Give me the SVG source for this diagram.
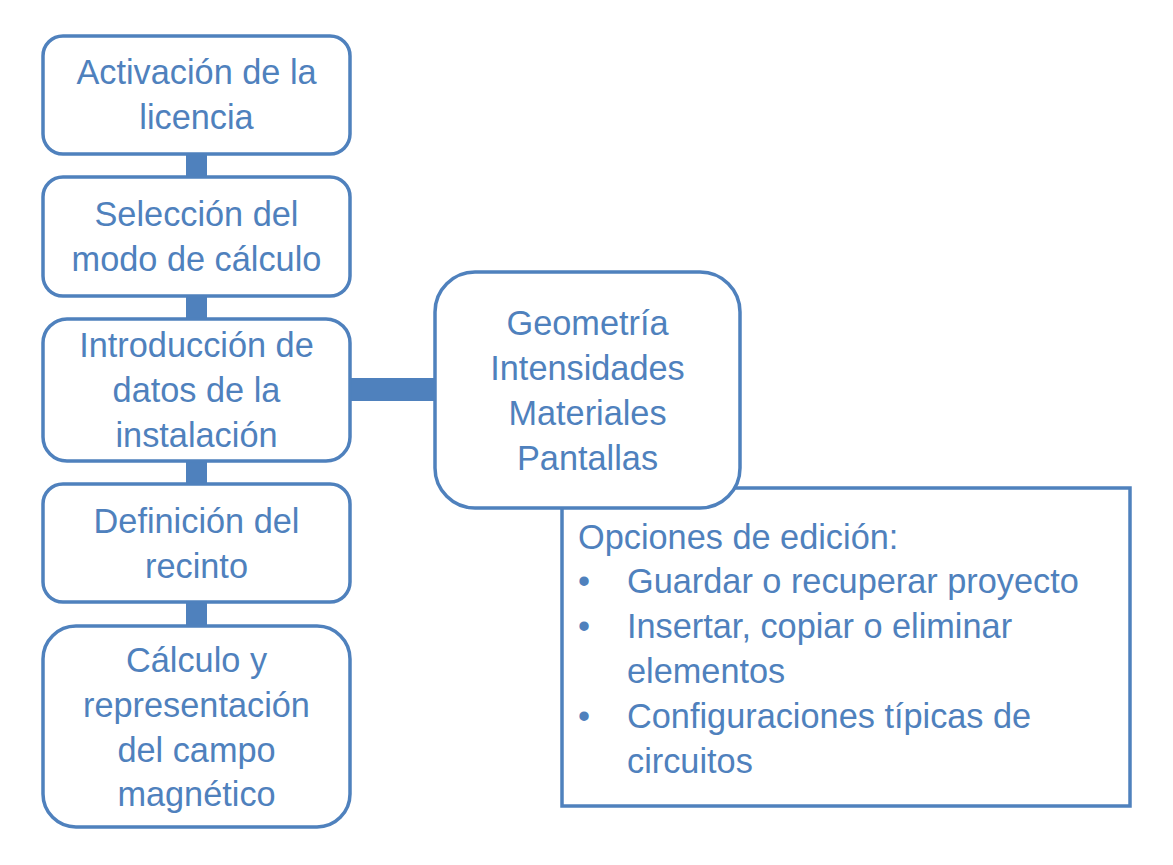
<svg xmlns="http://www.w3.org/2000/svg" width="1173" height="865" viewBox="0 0 1173 865">
<style>
.box{fill:#FFFFFF;stroke:#4F81BD;stroke-width:3.5}
.bar{fill:#4F81BD}
text{font-family:"Liberation Sans",Arial,sans-serif;font-size:34.3px;fill:#4F81BD}
.c{text-anchor:middle}
</style>
<rect width="1173" height="865" fill="#FFFFFF"/>
<g id="connectors">
<rect class="bar" x="186" y="152" width="21" height="27"/>
<rect class="bar" x="186" y="294" width="21" height="27"/>
<rect class="bar" x="186" y="459" width="21" height="27"/>
<rect class="bar" x="186" y="600" width="21" height="28"/>
<rect class="bar" x="348" y="378" width="89" height="23"/>
</g>
<g id="opciones">
<rect class="box" x="562" y="488" width="568" height="318"/>
<text x="578" y="549">Opciones de edición:</text>
<text x="578" y="593">•</text><text x="627" y="593">Guardar o recuperar proyecto</text>
<text x="578" y="638">•</text><text x="627" y="638">Insertar, copiar o eliminar</text>
<text x="627" y="683">elementos</text>
<text x="578" y="728">•</text><text x="627" y="728">Configuraciones típicas de</text>
<text x="627" y="773">circuitos</text>
</g>
<g id="n1">
<rect class="box" x="43" y="36" width="307" height="118" rx="20"/>
<text class="c" x="196.5" y="84">Activación de la</text>
<text class="c" x="196.5" y="129">licencia</text>
</g>
<g id="n2">
<rect class="box" x="43" y="177" width="307" height="119" rx="20"/>
<text class="c" x="196.5" y="226">Selección del</text>
<text class="c" x="196.5" y="271">modo de cálculo</text>
</g>
<g id="n3">
<rect class="box" x="43" y="319" width="307" height="142" rx="24"/>
<text class="c" x="196.5" y="357">Introducción de</text>
<text class="c" x="196.5" y="402">datos de la</text>
<text class="c" x="196.5" y="447">instalación</text>
</g>
<g id="n4">
<rect class="box" x="43" y="484" width="307" height="118" rx="20"/>
<text class="c" x="196.5" y="533">Definición del</text>
<text class="c" x="196.5" y="578">recinto</text>
</g>
<g id="n5">
<rect class="box" x="43" y="626" width="307" height="201" rx="33"/>
<text class="c" x="196.5" y="672">Cálculo y</text>
<text class="c" x="196.5" y="717">representación</text>
<text class="c" x="196.5" y="762">del campo</text>
<text class="c" x="196.5" y="806">magnético</text>
</g>
<g id="n6">
<rect class="box" x="435" y="272" width="305" height="236" rx="40"/>
<text class="c" x="587.5" y="335">Geometría</text>
<text class="c" x="587.5" y="380">Intensidades</text>
<text class="c" x="587.5" y="425">Materiales</text>
<text class="c" x="587.5" y="470">Pantallas</text>
</g>
</svg>
